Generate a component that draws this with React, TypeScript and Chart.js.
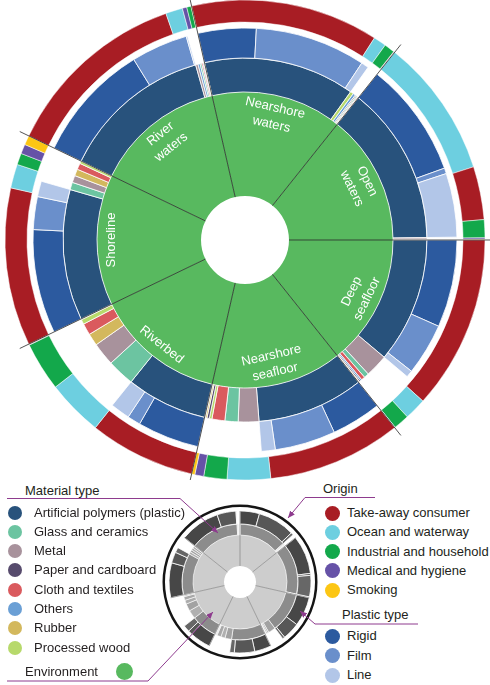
import React, { useEffect, useRef } from 'react';
import { Chart, registerables } from 'chart.js';

Chart.register(...registerables);

// ---------------- data (percent of items in each environment) ----------------
const environments = ['Nearshore waters', 'Open waters', 'Deep seafloor', 'Nearshore seafloor', 'Riverbed', 'Shoreline', 'River waters'];
const envLabelLines = [['Nearshore', 'waters'], ['Open', 'waters'], ['Deep', 'seafloor'], ['Nearshore', 'seafloor'], ['Riverbed'], ['Shoreline'], ['River', 'waters']];

const materialTypes = ['Artificial polymers (plastic)', 'Glass and ceramics', 'Metal', 'Paper and cardboard', 'Cloth and textiles', 'Others', 'Rubber', 'Processed wood'];
const plasticShare = [94, 98.5, 78, 66.4, 50.4, 81.3, 94.4];
const glassShare = [0.7, 0.1, 3, 8.2, 16.9, 4.6, 1.0];
const metalShare = [0.8, 1.0, 14.2, 12.8, 14.4, 4.4, 1.5];
const paperShare = [0.3, 0.1, 0.8, 1.5, 0.3, 0, 0.5];
const clothShare = [0.5, 0.1, 2.3, 8.0, 7.2, 3.9, 0.8];
const othersShare = [1.5, 0.2, 1.0, 0.5, 0.2, 0, 1.3];
const rubberShare = [0.2, 0, 0.4, 1.0, 7.6, 4.2, 0.3];
const woodShare = [2.0, 0, 0.3, 1.6, 3.0, 1.6, 0.2];

const plasticTypes = ['Rigid', 'Film', 'Line'];
const rigidShare = [31, 61.5, 46.7, 26.6, 33, 55.5, 63.5];
const filmShare = [59, 3, 27.7, 32.4, 7, 17.5, 30.2];
const lineShare = [4, 34, 3.6, 7.4, 10.4, 8.3, 0.7];

const origins = ['Take-away consumer', 'Ocean and waterway', 'Industrial and household', 'Medical and hygiene', 'Smoking'];
const takeAwayShare = [88.5, 25, 82, 63, 50, 74.4, 87.6];
const oceanShare = [6, 65.5, 10.3, 20.4, 26.5, 11.3, 8];
const industrialShare = [5, 8.5, 7.4, 10.9, 23, 5.4, 2.0];
const medicalShare = [0.3, 0.7, 0.2, 4.2, 0.3, 4.5, 2.1];
const smokingShare = [0.2, 0.3, 0.1, 1.5, 0.2, 4.4, 0.3];

const materialSeries = [plasticShare, glassShare, metalShare, paperShare, clothShare, othersShare, rubberShare, woodShare];
const plasticSeries = [rigidShare, filmShare, lineShare];
const originSeries = [takeAwayShare, oceanShare, industrialShare, medicalShare, smokingShare];

// ---------------- colours ----------------
const envColor = '#58b95f';
const materialColors = ['#28527c', '#6cc4a1', '#a8929c', '#574b6d', '#da5a5e', '#6a9fd5', '#d3b85d', '#b7d96b'];
const plasticColors = ['#2c5a9f', '#6a8fcb', '#b2c6e8'];
const originColors = ['#a81d24', '#6dcfe0', '#13a84b', '#6652a7', '#fcc614'];

const envGray = '#cdcdcd';
const materialGrays = ['#8c8c8c', '#b0b0b0', '#a2a2a2', '#bcbcbc', '#a8a8a8', '#b8b8b8', '#acacac', '#c2c2c2'];
const plasticGrays = ['#474747', '#575757', '#676767'];
const purple = '#8e3b8e';
const FONT = '"Liberation Sans", Arial, Helvetica, sans-serif';
const CLEAR = 'rgba(0,0,0,0)';

type Ring = { data: number[]; colors: string[]; widths: number[] };

function buildRing(series: number[][], colors: string[], sort: boolean, pinFirst: boolean, fill: boolean, border: number): Ring {
  const data: number[] = [];
  const cols: string[] = [];
  const widths: number[] = [];
  environments.forEach((_, e) => {
    let order = series.map((_, k) => k);
    if (sort) {
      const head = pinFirst ? [0] : [];
      const rest = order.filter((k) => !(pinFirst && k === 0)).sort((a, b) => series[b][e] - series[a][e]);
      order = head.concat(rest);
    }
    let sum = 0;
    order.forEach((k) => {
      const v = series[k][e];
      if (v > 0) {
        data.push(v);
        cols.push(colors[k]);
        widths.push(border);
        sum += v;
      }
    });
    if (fill && sum < 99.999) {
      data.push(100 - sum);
      cols.push(CLEAR);
      widths.push(0);
    }
  });
  return { data, colors: cols, widths };
}

function boundaryPlugin(id: string, color: string, width: number, outerIndex: number, extra: number) {
  return {
    id,
    afterDatasetsDraw(chart: any) {
      const n = chart.data.datasets.length;
      const envMeta = chart.getDatasetMeta(n - 1);
      const outerArc: any = chart.getDatasetMeta(outerIndex).data[0];
      const rOut = outerArc.outerRadius + extra;
      const ctx = chart.ctx;
      ctx.save();
      ctx.strokeStyle = color;
      ctx.lineWidth = width;
      envMeta.data.forEach((arc: any) => {
        const a = arc.startAngle;
        ctx.beginPath();
        ctx.moveTo(arc.x + arc.innerRadius * Math.cos(a), arc.y + arc.innerRadius * Math.sin(a));
        ctx.lineTo(arc.x + rOut * Math.cos(a), arc.y + rOut * Math.sin(a));
        ctx.stroke();
      });
      ctx.restore();
    },
  };
}

const envLabelPlugin = {
  id: 'envLabels',
  afterDatasetsDraw(chart: any) {
    const n = chart.data.datasets.length;
    const meta = chart.getDatasetMeta(n - 1);
    const ctx = chart.ctx;
    ctx.save();
    ctx.font = `13px ${FONT}`;
    ctx.fillStyle = '#ffffff';
    ctx.textAlign = 'center';
    ctx.textBaseline = 'middle';
    meta.data.forEach((arc: any, i: number) => {
      const lines = envLabelLines[i];
      const mid = (arc.startAngle + arc.endAngle) / 2;
      const r = lines.length > 1 ? arc.outerRadius - 21 : arc.outerRadius - 14;
      const x = arc.x + r * Math.cos(mid);
      const y = arc.y + r * Math.sin(mid);
      let deg = ((mid * 180) / Math.PI + 90) % 360;
      if (deg < 0) deg += 360;
      let rot = deg;
      if (deg > 90 && deg < 265) rot = deg - 180;
      ctx.save();
      ctx.translate(x, y);
      ctx.rotate((rot * Math.PI) / 180);
      lines.forEach((t, j) => ctx.fillText(t, 0, (j - (lines.length - 1) / 2) * 17));
      ctx.restore();
    });
    ctx.restore();
  },
};

function mainConfig(): any {
  const origin = buildRing(originSeries, originColors, true, false, false, 0.5);
  const ptype = buildRing(plasticSeries, plasticColors, false, false, true, 0.8);
  const mat = buildRing(materialSeries, materialColors, true, true, false, 0.8);
  return {
    type: 'doughnut',
    data: {
      datasets: [
        { data: origin.data, backgroundColor: origin.colors, borderColor: '#ffffff', borderWidth: origin.widths, weight: 22 },
        { data: [1], backgroundColor: [CLEAR], borderWidth: 0, weight: 6 },
        { data: ptype.data, backgroundColor: ptype.colors, borderColor: '#ffffff', borderWidth: ptype.widths, weight: 30 },
        { data: mat.data, backgroundColor: mat.colors, borderColor: '#ffffff', borderWidth: mat.widths, weight: 34 },
        { data: environments.map(() => 100), backgroundColor: envColor, borderWidth: 0, weight: 104 },
      ],
    },
    options: {
      responsive: false,
      animation: false,
      events: [],
      rotation: -12.86,
      radius: 240,
      cutout: '18.33%',
      plugins: { legend: { display: false }, tooltip: { enabled: false } },
    },
    plugins: [boundaryPlugin('mainLines', '#2a2a2a', 0.8, 0, 10), envLabelPlugin],
  };
}

function miniConfig(): any {
  const ptype = buildRing(plasticSeries, plasticGrays, false, false, true, 0.8);
  const mat = buildRing(materialSeries, materialGrays, true, true, false, 0.6);
  return {
    type: 'doughnut',
    data: {
      datasets: [
        { data: [1], backgroundColor: ['#151515'], borderWidth: 0, weight: 2.5 },
        { data: [1], backgroundColor: [CLEAR], borderWidth: 0, weight: 4 },
        { data: ptype.data, backgroundColor: ptype.colors, borderColor: '#ffffff', borderWidth: ptype.widths, weight: 13 },
        { data: mat.data, backgroundColor: mat.colors, borderColor: '#ffffff', borderWidth: mat.widths, weight: 11 },
        { data: environments.map(() => 100), backgroundColor: envGray, borderWidth: 0, weight: 31 },
      ],
    },
    options: {
      responsive: false,
      animation: false,
      events: [],
      rotation: 0,
      radius: 77.5,
      cutout: '20.65%',
      plugins: { legend: { display: false }, tooltip: { enabled: false } },
    },
    plugins: [boundaryPlugin('miniLines', '#858585', 0.7, 2, 0)],
  };
}

function Dot({ cx, cy, r, color }: { cx: number; cy: number; r: number; color: string }) {
  return <div style={{ position: 'absolute', left: cx - r, top: cy - r, width: 2 * r, height: 2 * r, borderRadius: '50%', background: color }} />;
}

function Label({ x, cy, text }: { x: number; cy: number; text: string }) {
  return <div style={{ position: 'absolute', left: x, top: cy - 8, height: 16, lineHeight: '16px', whiteSpace: 'nowrap' }}>{text}</div>;
}

export default function App() {
  const mainRef = useRef<HTMLCanvasElement>(null);
  const miniRef = useRef<HTMLCanvasElement>(null);

  useEffect(() => {
    const c1 = new Chart(mainRef.current as HTMLCanvasElement, mainConfig());
    const c2 = new Chart(miniRef.current as HTMLCanvasElement, miniConfig());
    return () => {
      c1.destroy();
      c2.destroy();
    };
  }, []);

  return (
    <div style={{ position: 'absolute', left: 0, top: 0, width: 490, height: 685, overflow: 'hidden', background: '#ffffff', fontFamily: FONT, fontSize: 13, color: '#231f20' }}>
      <canvas ref={mainRef} width={490} height={480} style={{ position: 'absolute', left: 0, top: 0 }} />
      <canvas ref={miniRef} width={170} height={170} style={{ position: 'absolute', left: 155, top: 497 }} />

      <Label x={25} cy={490.5} text="Material type" />
      {materialTypes.map((t, i) => (
        <React.Fragment key={t}>
          <Dot cx={15} cy={512.5 + i * 19.3} r={7} color={materialColors[i]} />
          <Label x={34} cy={512.5 + i * 19.3} text={t} />
        </React.Fragment>
      ))}
      <Label x={25} cy={672} text="Environment" />
      <Dot cx={124} cy={671} r={8.5} color={envColor} />

      <Label x={323} cy={488.5} text="Origin" />
      {origins.map((t, i) => (
        <React.Fragment key={t}>
          <Dot cx={332} cy={513 + i * 19.3} r={7.5} color={originColors[i]} />
          <Label x={347} cy={513 + i * 19.3} text={t} />
        </React.Fragment>
      ))}
      <Label x={342} cy={615} text="Plastic type" />
      {plasticTypes.map((t, i) => (
        <React.Fragment key={t}>
          <Dot cx={332} cy={636 + i * 19.5} r={7.5} color={plasticColors[i]} />
          <Label x={347} cy={636 + i * 19.5} text={t} />
        </React.Fragment>
      ))}

      <svg width={490} height={685} style={{ position: 'absolute', left: 0, top: 0, pointerEvents: 'none' }}>
        <defs>
          <marker id="ah" markerWidth={7} markerHeight={6} refX={7} refY={3} orient="auto" markerUnits="userSpaceOnUse">
            <path d="M0,0 L7,3 L0,6 z" fill={purple} />
          </marker>
        </defs>
        <polyline points="7,498.5 180,498.5 218,533" fill="none" stroke={purple} strokeWidth={1} markerEnd="url(#ah)" />
        <polyline points="7,681 148,681 213,612" fill="none" stroke={purple} strokeWidth={1} markerEnd="url(#ah)" />
        <polyline points="375,497.5 305,497.5 288,518" fill="none" stroke={purple} strokeWidth={1} markerEnd="url(#ah)" />
        <polyline points="418,624 315,624 300,611" fill="none" stroke={purple} strokeWidth={1} markerEnd="url(#ah)" />
      </svg>
    </div>
  );
}
